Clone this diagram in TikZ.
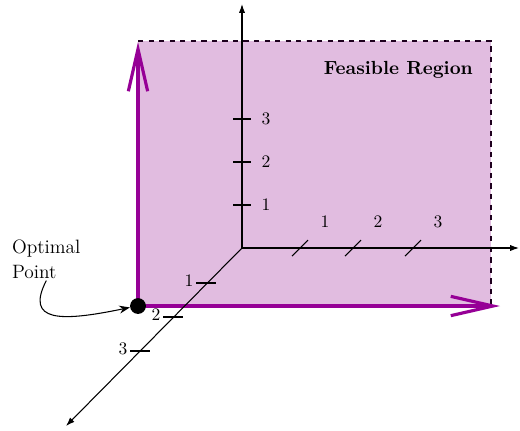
\documentclass[tikz,border=0pt]{standalone}
\usepackage{tikz}
\usetikzlibrary{arrows.meta}
\definecolor{regionfill}{RGB}{225,188,224}
\definecolor{regionedge}{RGB}{150,0,150}

\begin{document}
\begin{tikzpicture}[x=0.02cm,y=-0.02cm,
  axis/.style={line width=0.6pt,-{Latex[length=5pt,width=3.5pt]}},
  bound/.style={regionedge,line width=1.8pt,-{Straight Barb[length=24pt,width=11pt,line width=1.8pt]}},
  tick/.style={line width=0.6pt},
  ticklabel/.style={font=\normalsize,inner sep=1pt}]
\useasboundingbox (0,0) rectangle (520,430);
\coordinate (o) at (242,248);
\coordinate (opt) at (138,306);
% feasible region
\fill[regionfill] (138,41) rectangle (491,306);
\draw[dashed,line width=0.8pt,black!80!regionedge] (138,41) -- (491,41) -- (491,306);
\draw[bound] (opt) -- (138,42);
\draw[bound] (opt) -- (500,306);
\node[font=\fontsize{10.8}{13}\selectfont\bfseries,anchor=east] (fr) at (479,70) {Feasible Region};
% axes
\draw[axis] (o) -- (242,4);
\draw[axis] (o) -- (519,248);
\draw[axis] (o) -- (66,426);
% ticks
\foreach \y/\t in {205/1,162/2,119/3}{
  \draw[tick] (233,\y) -- (251,\y);
  \node[ticklabel] at (266,\y) {\t};
}
\foreach \x/\t in {300/1,353/2,413/3}{
  \draw[tick] (\x-8,256) -- (\x+8,240);
  \node[ticklabel] at (\x+25,222) {\t};
}
\foreach \x/\y/\t in {206/283/1,173/317/2,140/351/3}{
  \draw[tick] (\x-10,\y) -- (\x+10,\y);
  \node[ticklabel] at (\x-17,\y-2) {\t};
}
% optimal point
\node[circle,fill,inner sep=0pt,minimum size=9pt] (dot) at (opt) {};
\node[align=left,font=\fontsize{11}{14}\selectfont,inner sep=1pt,anchor=north west] (optlbl) at (10,238) {Optimal\\Point};
\draw[line width=0.6pt,-{Stealth[length=6pt]}] (optlbl.south) .. controls (25,322) and (60,322) .. (dot.190);
\end{tikzpicture}
\end{document}
